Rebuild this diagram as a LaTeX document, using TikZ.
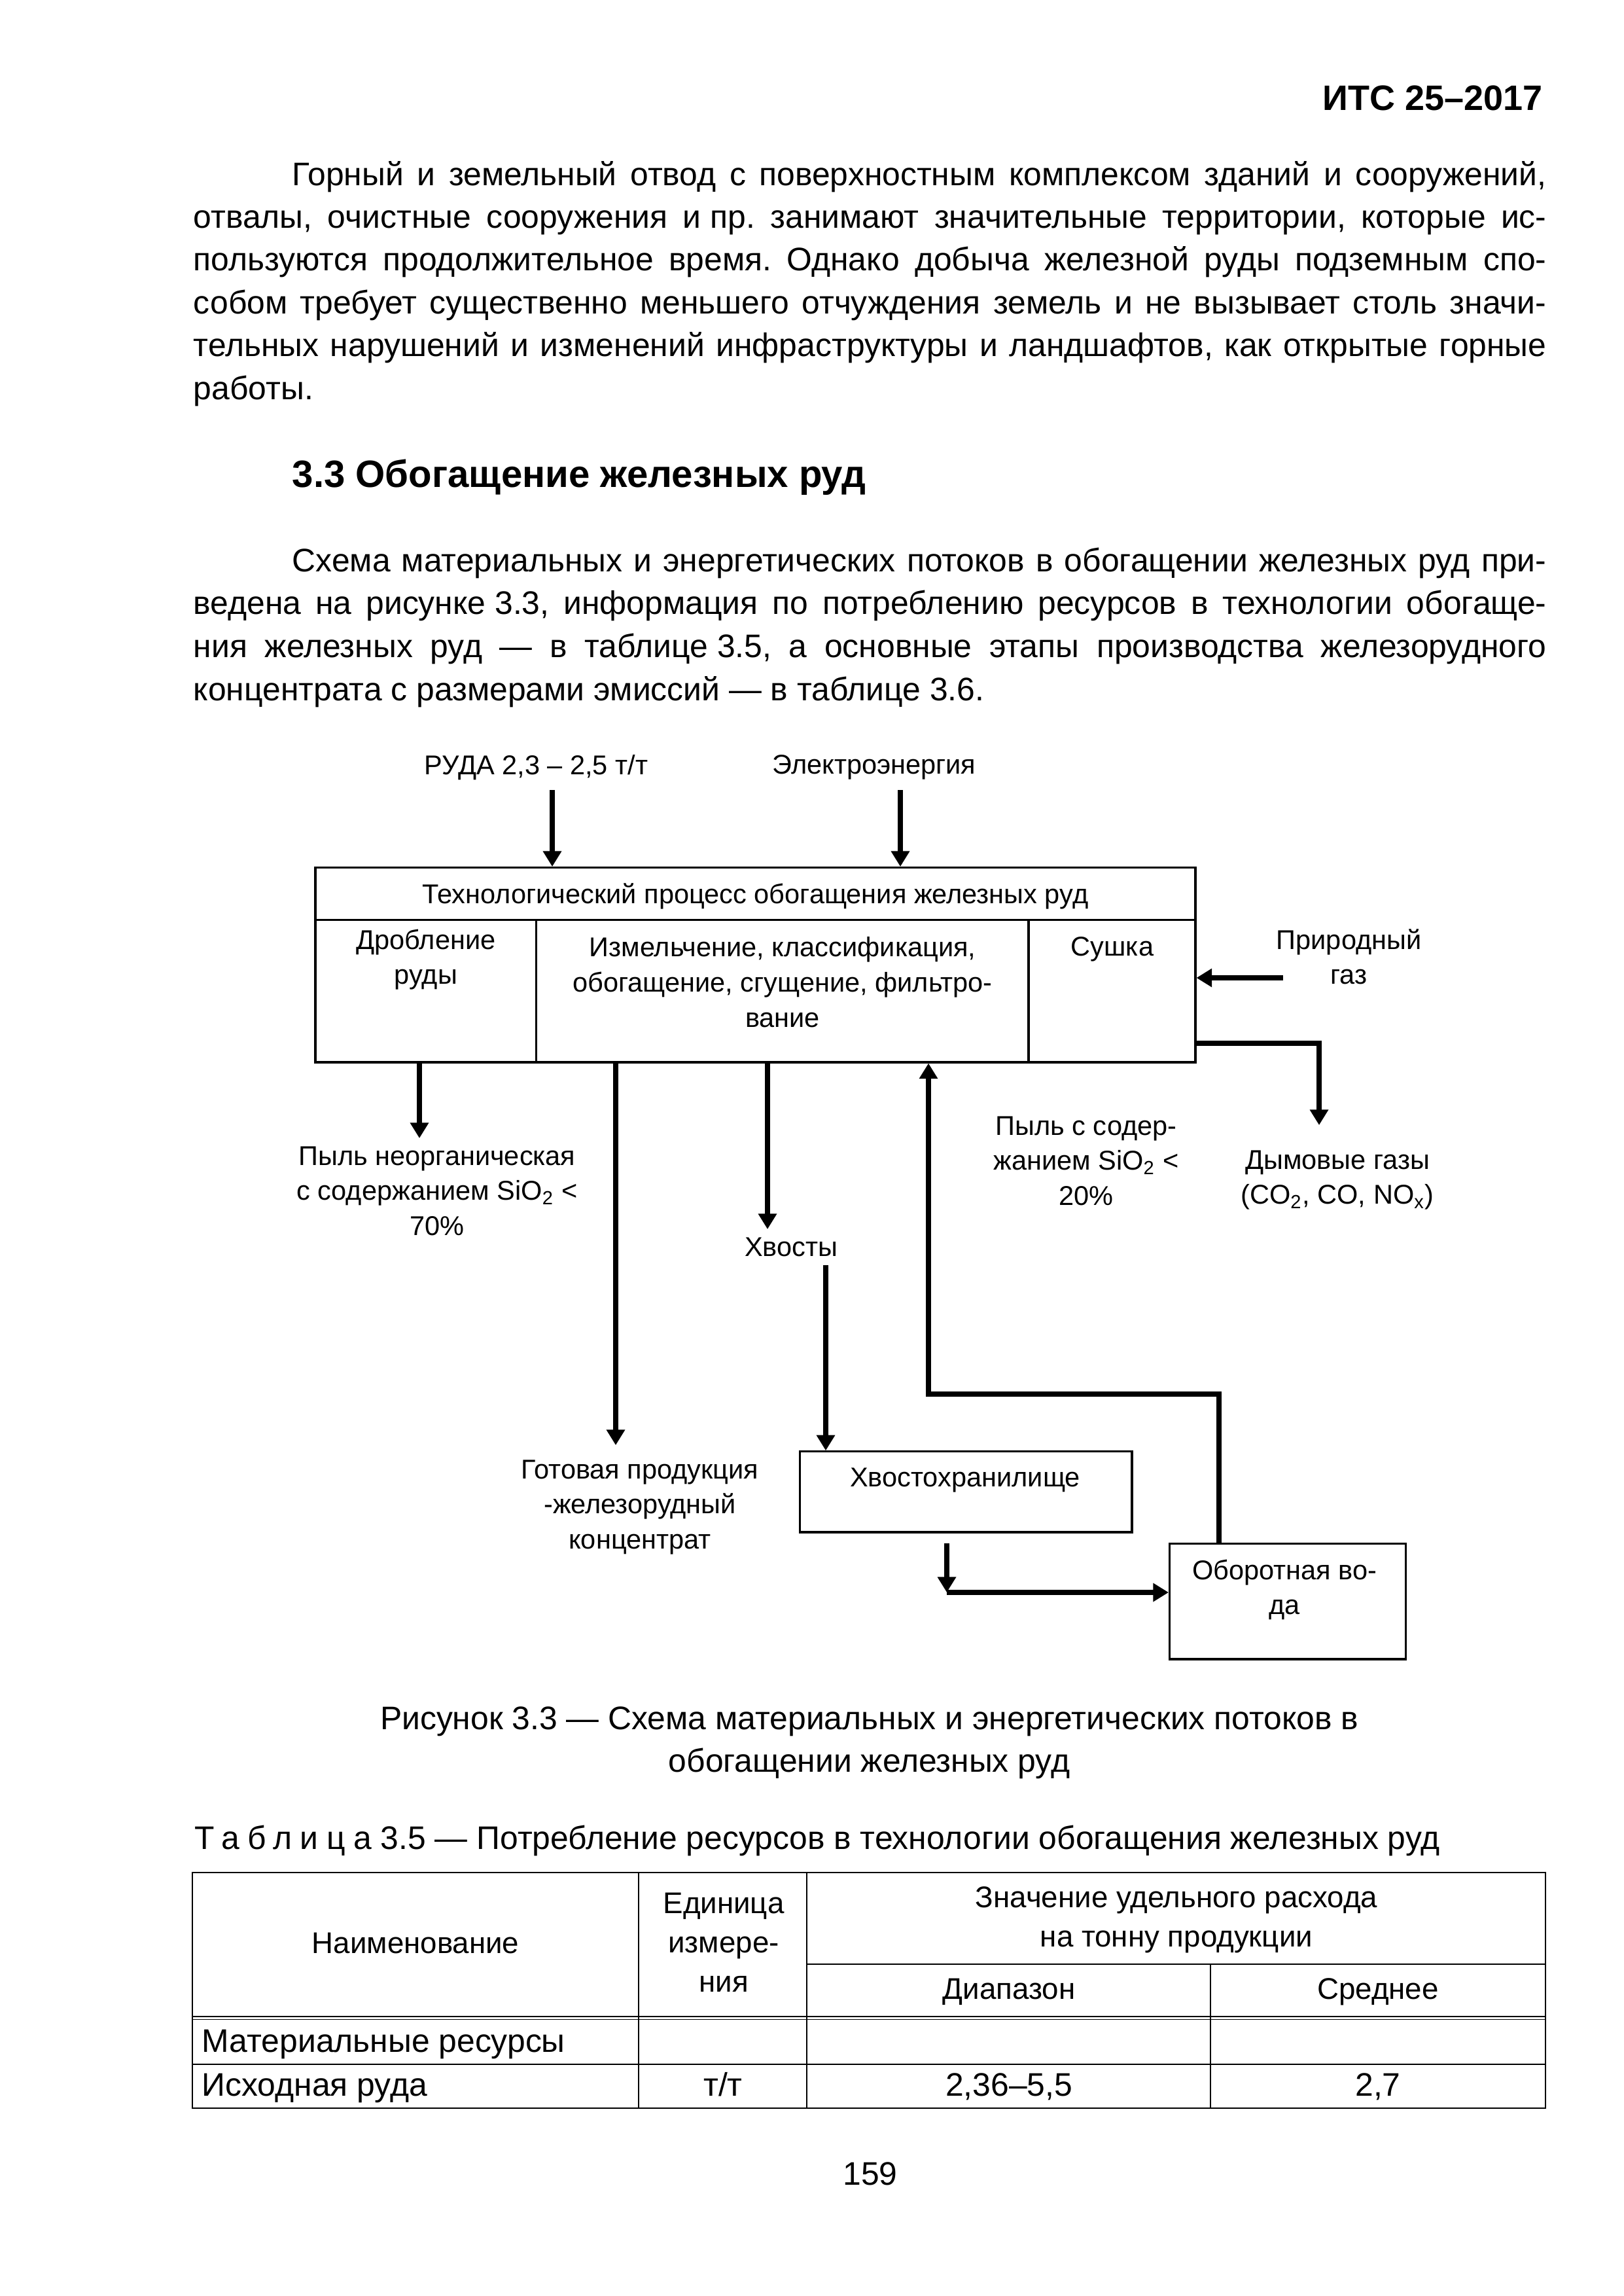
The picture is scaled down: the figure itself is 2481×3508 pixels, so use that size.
\documentclass[tikz,border=0pt]{standalone}
\usepackage{fontspec}
\setmainfont{Liberation Sans}
\usetikzlibrary{arrows.meta,fit}
\newcommand{\bodyfont}{\fontsize{12}{14}\selectfont}
\newcommand{\figfont}{\fontsize{10}{12.95}\selectfont}
\newcommand{\headfont}{\fontsize{11}{14.5}\selectfont}
\newcommand{\tabfont}{\fontsize{12}{14.5}\selectfont}
\newcommand{\rows}[1]{\begin{tabular}[t]{@{}c@{}}#1\end{tabular}}
\newcommand{\jline}[2]{\makebox[#1][s]{#2}}
\newcommand{\nb}{\hspace{0.28em}}
\frenchspacing
\begin{document}
\begin{tikzpicture}[x=0.084643mm,y=-0.084643mm,
  txt/.style={inner sep=0pt,anchor=base},
  txtl/.style={inner sep=0pt,anchor=base west},
  body/.style={txtl,font=\bodyfont},
  lbl/.style={txt,font=\figfont},
  cell/.style={draw,line width=0.26mm,inner sep=0pt},
  flow/.style={line width=0.68mm,-{Triangle[length=2mm,width=2.3mm]}},
  rule/.style={line width=0.45pt},
  outer/.style={line width=0.65pt}]
\useasboundingbox (0,0) rectangle (2481,3508);
% page head and text
\node[txt,anchor=base east,font=\fontsize{13}{15}\selectfont\bfseries] (hdr) at (2358,168) {ИТС 25–2017};
\node[body] (p1) at (446,283) {\jline{162.2mm}{Горный и земельный отвод с поверхностным комплексом зданий и сооружений,}};
\node[body] (p2) at (295,348.4) {\jline{175mm}{отвалы, очистные сооружения и\nb пр. занимают значительные территории, которые ис-}};
\node[body] (p3) at (295,413.8) {\jline{175mm}{пользуются продолжительное время. Однако добыча железной руды подземным спо-}};
\node[body] (p4) at (295,479.2) {\jline{175mm}{собом требует существенно меньшего отчуждения земель и не вызывает столь значи-}};
\node[body] (p5) at (295,544.6) {\jline{175mm}{тельных нарушений и изменений инфраструктуры и ландшафтов, как открытые горные}};
\node[body] (p6) at (295,610) {работы.};
\node[txtl,font=\fontsize{14}{16}\selectfont\bfseries] (sec) at (446,744) {3.3 Обогащение железных руд};
\node[body] (q1) at (446,873) {\jline{162.2mm}{Схема материальных и энергетических потоков в обогащении железных руд при-}};
\node[body] (q2) at (295,938.7) {\jline{175mm}{ведена на рисунке\nb 3.3, информация по потреблению ресурсов в технологии обогаще-}};
\node[body] (q3) at (295,1004.4) {\jline{175mm}{ния железных руд — в таблице\nb 3.5, а основные этапы производства железорудного}};
\node[body] (q4) at (295,1070) {концентрата с размерами эмиссий — в таблице\nb 3.6.};

% figure 3.3
\node[lbl] (ore) at (819.5,1183) {РУДА 2,3 – 2,5 т/т};
\node[lbl] (elec) at (1336,1182) {Электроэнергия};
\node[cell,fit={(482,1325.6) (1827,1405.8)}] (proc) {};
\node[cell,fit={(482,1405.8) (819.5,1623)}] (crush) {};
\node[cell,fit={(819.5,1405.8) (1572,1623)}] (grind) {};
\node[cell,fit={(1572,1405.8) (1827,1623)}] (dry) {};
\node[lbl] (proct) at (1154.5,1380) {Технологический процесс обогащения железных руд};
\node[lbl] (crusht) at (651,1450) {\rows{Дробление\\руды}};
\node[lbl] (grindt) at (1196,1461.5) {\rows{Измельчение, классификация,\\обогащение, сгущение, фильтро-\\вание}};
\node[lbl] (dryt) at (1700,1460) {Сушка};
\node[lbl] (gas) at (2061.6,1450) {\rows{Природный\\газ}};
\node[lbl] (smoke) at (2044,1786) {\rows{Дымовые газы\\(CO\textsubscript{2}, CO, NO\textsubscript{x})}};
\node[lbl] (dust20) at (1660,1734) {\rows{Пыль с содер-\\жанием SiO\textsubscript{2} <\\20\%}};
\node[lbl] (dust70) at (668,1780) {\rows{Пыль неорганическая\\с содержанием SiO\textsubscript{2} <\\70\%}};
\node[lbl] (tails) at (1209,1919) {Хвосты};
\node[lbl] (prod) at (978,2259) {\rows{Готовая продукция\\-железорудный\\концентрат}};
\node[cell,fit={(1222.8,2217.8) (1730,2341)}] (store) {};
\node[lbl] (storet) at (1475,2271) {Хвостохранилище};
\node[cell,fit={(1787.5,2358.5) (2148.8,2535)}] (water) {};
\node[lbl] (watert) at (1963,2413) {\rows{Оборотная во-\\да}};

\coordinate (oreS) at (844,1207);
\coordinate (elS) at (1376,1207);
\coordinate (gasS) at (1961,1494);
\coordinate (smkS) at (1827,1594);
\coordinate (smkE) at (2016,1719);
\coordinate (dustE) at (641,1739);
\coordinate (prodE) at (941,2208);
\coordinate (tailE) at (1173,1878);
\coordinate (tailS) at (1262,1933);
\coordinate (retS) at (1447,2358);
\coordinate (retC) at (1447,2433);
\coordinate (recA) at (1862.5,2130);
\coordinate (recB) at (1419,2130);
\draw[flow] (oreS) -- (oreS |- proc.north);
\draw[flow] (elS) -- (elS |- proc.north);
\draw[flow] (gasS) -- (gasS -| dry.east);
\draw[flow] (smkS) -| (smkE);
\draw[flow] (dustE |- crush.south) -- (dustE);
\draw[flow] (prodE |- grind.south) -- (prodE);
\draw[flow] (tailE |- grind.south) -- (tailE);
\draw[flow] (tailS) -- (tailS |- store.north);
\draw[flow] (retS) -- (retC);
\draw[flow] (retC) -- (retC -| water.west);
\draw[flow] (recA |- water.north) -- (recA) -- (recB) -- (recB |- grind.south);

\node[txt,font=\bodyfont] (cap1) at (1328.5,2642) {Рисунок 3.3 — Схема материальных и энергетических потоков в};
\node[txt,font=\bodyfont] (cap2) at (1328.5,2707) {обогащении железных руд};

% table 3.5
\node[body] (tabcap) at (297,2825) {{\addfontfeature{LetterSpace=25}Таблица} 3.5 — Потребление ресурсов в технологии обогащения железных руд};
\draw[outer] (294,2861) rectangle (2362,3221);
\draw[rule] (976,2861) -- (976,3221);
\draw[rule] (1233,2861) -- (1233,3221);
\draw[rule] (1850,3001) -- (1850,3221);
\draw[rule] (1233,3001) -- (2362,3001);
\draw[rule] (294,3081) -- (2362,3081);
\draw[rule] (294,3085.5) -- (2362,3085.5);
\draw[rule] (294,3154) -- (2362,3154);
\node[txt,font=\headfont] (thName) at (635,2984) {Наименование};
\node[txt,font=\headfont] (thUnit) at (1106,2923) {\rows{Единица\\измере-\\ния}};
\node[txt,font=\headfont] (thVal) at (1798,2914.5) {\rows{Значение удельного расхода\\на тонну продукции}};
\node[txt,font=\headfont] (thRange) at (1542,3054.5) {Диапазон};
\node[txt,font=\headfont] (thMean) at (2106,3054.5) {Среднее};
\node[txtl,font=\tabfont] (r1) at (308,3135) {Материальные ресурсы};
\node[txtl,font=\tabfont] (r2) at (308,3202) {Исходная руда};
\node[txt,font=\tabfont] (r2u) at (1105,3202) {т/т};
\node[txt,font=\tabfont] (r2r) at (1542,3202) {2,36–5,5};
\node[txt,font=\tabfont] (r2m) at (2106,3202) {2,7};

\node[txt,font=\bodyfont] (pg) at (1330,3338) {159};
\end{tikzpicture}
\end{document}
